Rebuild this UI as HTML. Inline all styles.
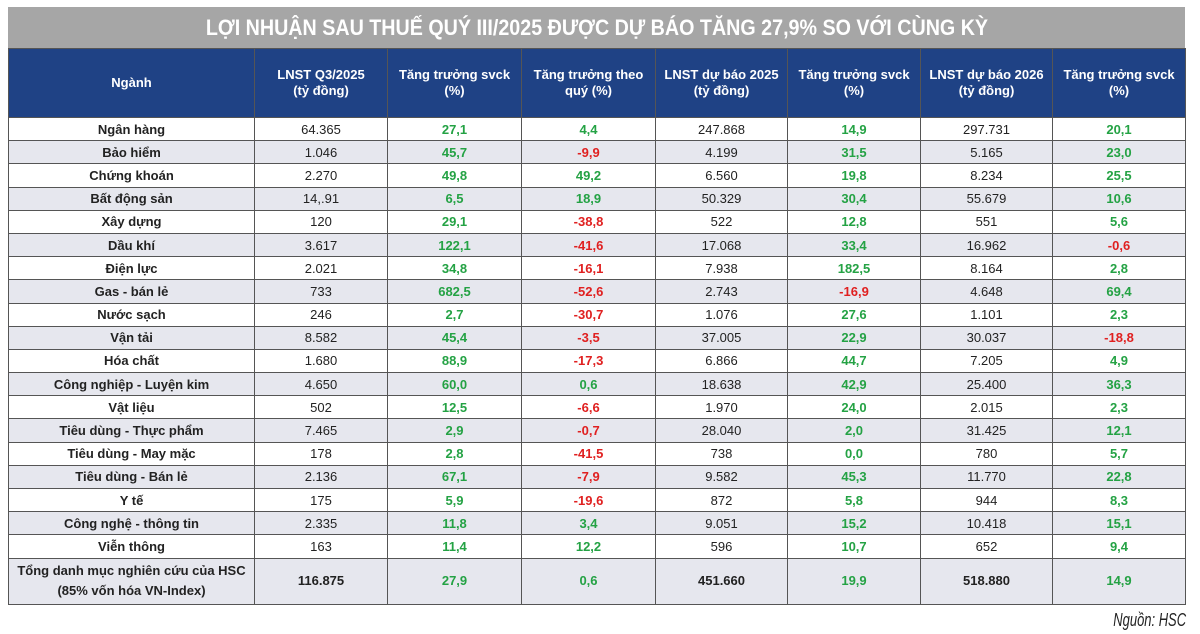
<!DOCTYPE html>
<html><head><meta charset="utf-8"><style>
body{margin:0;width:1200px;height:634px;background:#fff;font-family:"Liberation Sans",Arial,sans-serif;position:relative;overflow:hidden}
#title{position:absolute;left:8px;top:7px;width:1177px;height:41px;background:#a6a6a6;color:#fff;font-size:22px;font-weight:bold;text-align:center;line-height:42px;font-family:"Liberation Sans",sans-serif}
#title span{display:inline-block;transform:scaleX(0.895);white-space:nowrap}
table{position:absolute;left:8px;top:48px;width:1177px;border-collapse:collapse;table-layout:fixed}
td,th{border:1px solid #555;text-align:center;font-size:13px;padding:0}
th{background:#1f4285;color:#fff;height:68px;font-weight:bold;line-height:16px}
td{height:22.2px;font-weight:bold;color:#222}
td.n{font-weight:normal}
tr.g td{background:#e6e7ee}
.p{color:#24a244}.m{color:#e02020}
tr.t td{height:45px;line-height:20px}
table{border:1.5px solid #333}
#src{position:absolute;right:14px;top:610px;font-size:18px;font-style:italic;color:#222;transform:scaleX(0.72);transform-origin:right center;white-space:nowrap}
</style></head><body>
<div id="title"><span>LỢI NHUẬN SAU THUẾ QUÝ III/2025 ĐƯỢC DỰ BÁO TĂNG 27,9% SO VỚI CÙNG KỲ</span></div>
<table>
<colgroup><col style="width:246px"><col style="width:133px"><col style="width:134px"><col style="width:134px"><col style="width:132px"><col style="width:133px"><col style="width:132px"><col style="width:133px"></colgroup>
<thead><tr>
<th>Ngành</th><th>LNST Q3/2025<br>(tỷ đồng)</th><th>Tăng trưởng svck<br>(%)</th><th>Tăng trưởng theo<br>quý (%)</th><th>LNST dự báo 2025<br>(tỷ đồng)</th><th>Tăng trưởng svck<br>(%)</th><th>LNST dự báo 2026<br>(tỷ đồng)</th><th>Tăng trưởng svck<br>(%)</th></tr></thead>
<tbody id="tb"></tbody></table>
<div id="src">Nguồn: HSC</div>
<script>
const sectors=["Ngân hàng","Bảo hiểm","Chứng khoán","Bất động sản","Xây dựng","Dầu khí","Điện lực","Gas - bán lẻ","Nước sạch","Vận tải","Hóa chất","Công nghiệp - Luyện kim","Vật liệu","Tiêu dùng - Thực phẩm","Tiêu dùng - May mặc","Tiêu dùng - Bán lẻ","Y tế","Công nghệ - thông tin","Viễn thông"];
const lnstQ3=["64.365","1.046","2.270","14,.91","120","3.617","2.021","733","246","8.582","1.680","4.650","502","7.465","178","2.136","175","2.335","163"];
const yoyQ3=["27,1","45,7","49,8","6,5","29,1","122,1","34,8","682,5","2,7","45,4","88,9","60,0","12,5","2,9","2,8","67,1","5,9","11,8","11,4"];
const qoq=["4,4","-9,9","49,2","18,9","-38,8","-41,6","-16,1","-52,6","-30,7","-3,5","-17,3","0,6","-6,6","-0,7","-41,5","-7,9","-19,6","3,4","12,2"];
const f2025=["247.868","4.199","6.560","50.329","522","17.068","7.938","2.743","1.076","37.005","6.866","18.638","1.970","28.040","738","9.582","872","9.051","596"];
const yoy2025=["14,9","31,5","19,8","30,4","12,8","33,4","182,5","-16,9","27,6","22,9","44,7","42,9","24,0","2,0","0,0","45,3","5,8","15,2","10,7"];
const f2026=["297.731","5.165","8.234","55.679","551","16.962","8.164","4.648","1.101","30.037","7.205","25.400","2.015","31.425","780","11.770","944","10.418","652"];
const yoy2026=["20,1","23,0","25,5","10,6","5,6","-0,6","2,8","69,4","2,3","-18,8","4,9","36,3","2,3","12,1","5,7","22,8","8,3","15,1","9,4"];
const total=["Tổng danh mục nghiên cứu của HSC<br>(85% vốn hóa VN-Index)","116.875","27,9","0,6","451.660","19,9","518.880","14,9"];
const tb=document.getElementById('tb');
function pc(v){return v.startsWith('-')?'m':'p';}
sectors.forEach((s,i)=>{
 const tr=document.createElement('tr');
 
 
 if(i%2==1)tr.className='g';
 tr.innerHTML=`<td>${s}</td><td class="n">${lnstQ3[i]}</td><td class="${pc(yoyQ3[i])}">${yoyQ3[i]}</td><td class="${pc(qoq[i])}">${qoq[i]}</td><td class="n">${f2025[i]}</td><td class="${pc(yoy2025[i])}">${yoy2025[i]}</td><td class="n">${f2026[i]}</td><td class="${pc(yoy2026[i])}">${yoy2026[i]}</td>`;
 tb.appendChild(tr);
});
const tr=document.createElement('tr');


tr.className='g t';
tr.innerHTML=`<td>${total[0]}</td><td>${total[1]}</td><td class="p">${total[2]}</td><td class="p">${total[3]}</td><td>${total[4]}</td><td class="p">${total[5]}</td><td>${total[6]}</td><td class="p">${total[7]}</td>`;
tb.appendChild(tr);
</script>
</body></html>
